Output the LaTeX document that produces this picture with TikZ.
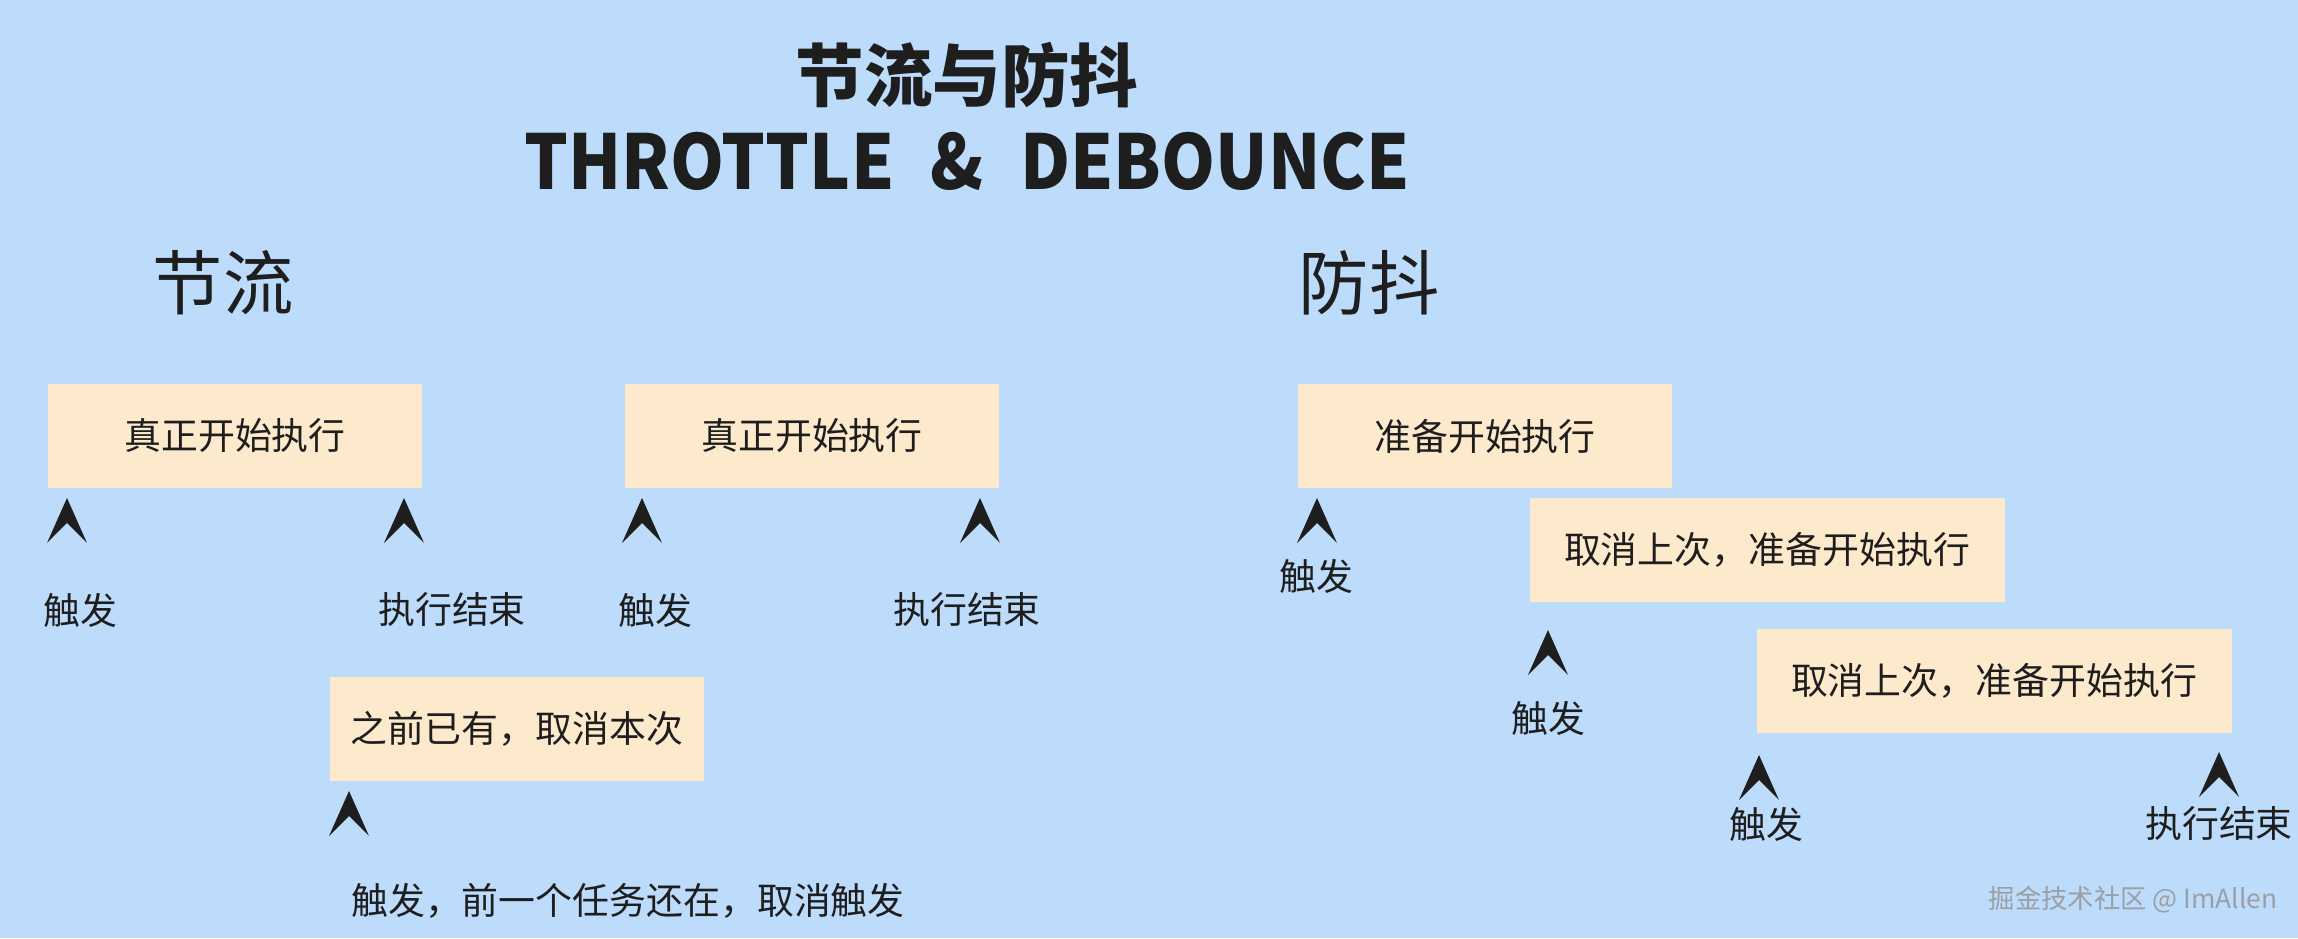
\documentclass[tikz,border=0pt]{standalone}
\usepackage{fontspec}
\setmainfont{Noto Sans CJK SC}
\usetikzlibrary{positioning}
\definecolor{tdsky}{HTML}{BDDCFC}
\definecolor{tdcream}{HTML}{FDE9CC}
\definecolor{tdink}{HTML}{1E1E1E}
\definecolor{tdmark}{HTML}{9A9FA6}
\newcommand{\upmark}[1]{\fill[tdink] (#1) -- ++(-0.2,-0.45) -- ++(0.2,0.2) -- ++(0.2,-0.2) -- cycle;}
\tikzset{
  stage/.style={fill=tdcream, minimum width=3.74cm, minimum height=1.04cm, inner sep=0pt,
                font=\fontsize{10.5}{12}\selectfont, text=tdink},
  wide/.style={stage, minimum width=4.75cm},
  lbl/.style={font=\fontsize{10.5}{12}\selectfont, text=tdink, inner sep=0pt},
  head/.style={font=\fontsize{20}{24}\selectfont, text=tdink, inner sep=0pt},
  bigtitle/.style={font=\fontsize{19.5}{23}\selectfont\bfseries, text=tdink, inner sep=0pt},
  watermark/.style={font=\fontsize{7.5}{9}\selectfont, text=tdmark, inner sep=0pt},
}

\begin{document}
\begin{tikzpicture}
  \fill[tdsky] (0,0) rectangle (22.98,9.38);
  \useasboundingbox (0,0) rectangle (22.98,9.38);

  \node[bigtitle] (maintitle) at (9.67,8.63) {节流与防抖};
  \node[bigtitle, font=\fontsize{21.5}{25}\selectfont\bfseries] (subtitle) at (9.67,7.77)
    {\scalebox{0.91}[1]{THROTTLE\hspace{4mm}\&\hspace{4mm}DEBOUNCE}};

  \node[head] (thead) at (2.23,6.55) {节流};
  \node[head] (dhead) at (13.69,6.55) {防抖};

  % throttle
  \node[stage] (run1) at (2.35,5.02) {真正开始执行};
  \node[stage] (run2) at (8.12,5.02) {真正开始执行};
  \node[stage] (skip) at (5.17,2.09) {之前已有，取消本次};
  \upmark{0.67,4.40} \upmark{4.04,4.40} \upmark{6.42,4.40} \upmark{9.80,4.40}
  \upmark{3.49,1.47}
  \node[lbl] (fire1) at (0.80,3.28) {触发};
  \node[lbl] (done1) at (4.52,3.28) {执行结束};
  \node[lbl] (fire2) at (6.55,3.28) {触发};
  \node[lbl] (done2) at (9.67,3.28) {执行结束};
  \node[lbl] (fireskip) at (6.28,0.37) {触发，前一个任务还在，取消触发};

  % debounce
  \node[stage] (wait1) at (14.85,5.02) {准备开始执行};
  \node[wide] (wait2) at (17.67,3.88) {取消上次，准备开始执行};
  \node[wide] (wait3) at (19.94,2.57) {取消上次，准备开始执行};
  \upmark{13.17,4.40} \upmark{15.48,3.08} \upmark{17.59,1.83} \upmark{22.19,1.86}
  \node[lbl] (dfire1) at (13.16,3.62) {触发};
  \node[lbl] (dfire2) at (15.48,2.20) {触发};
  \node[lbl] (dfire3) at (17.66,1.14) {触发};
  \node[lbl] (ddone) at (22.19,1.14) {执行结束};

  \node[watermark] (credit) at (21.33,0.38) {掘金技术社区 @ ImAllen};
\end{tikzpicture}
\end{document}
